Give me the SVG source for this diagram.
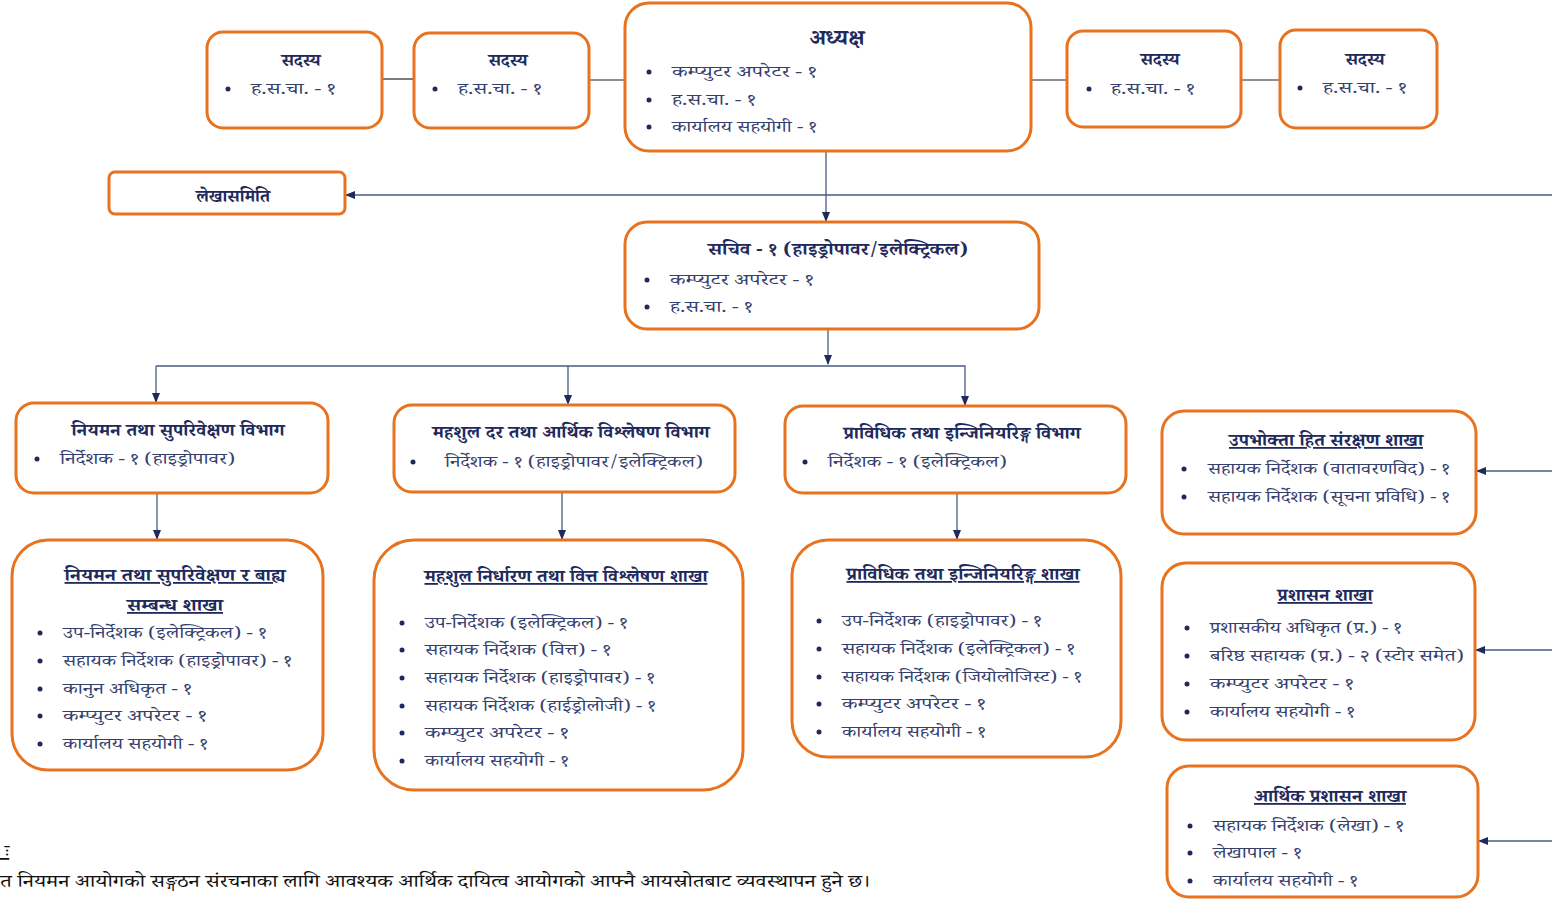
<svg xmlns="http://www.w3.org/2000/svg" width="1552" height="899" viewBox="0 0 1552 899">
<style>
.box{fill:#fff;stroke:#E8731F;stroke-width:3}
.t{font-family:"Noto Serif Devanagari","Noto Sans Devanagari","Lohit Devanagari","Noto Sans",serif;fill:#1F2A5C}
.h{font-size:18px;font-weight:bold;text-anchor:middle}
.hu{font-size:18px;font-weight:bold;text-anchor:middle;text-decoration:underline}
.i{font-size:16px;fill:#34406E}
.b{fill:#1F2A5C}
.c{fill:none;stroke:#4A5A85;stroke-width:1.3}
.k{fill:none;stroke:#222;stroke-width:1.2}
.n{font-family:"Noto Serif Devanagari","Noto Sans Devanagari","Lohit Devanagari","Noto Sans",serif;font-size:18px;fill:#111}
</style>
<defs>
<marker id="ar" markerWidth="10" markerHeight="10" refX="9" refY="5" orient="auto" markerUnits="userSpaceOnUse">
<path d="M0,1 L10,5 L0,9 Z" fill="#1F2A5C"/>
</marker>
</defs>
<g id="connectors">
<line class="k" x1="382" y1="79" x2="414" y2="79"/>
<line class="k" x1="589" y1="80" x2="625" y2="80"/>
<line class="k" x1="1031" y1="80" x2="1067" y2="80"/>
<line class="k" x1="1241" y1="80" x2="1280" y2="80"/>
<line class="c" x1="826" y1="151" x2="826" y2="221" marker-end="url(#ar)"/>
<line class="c" x1="1552" y1="195" x2="346" y2="195" marker-end="url(#ar)"/>
<line class="c" x1="828" y1="329" x2="828" y2="364" marker-end="url(#ar)"/>
<polyline class="c" points="156,366 965,366 965,405" marker-end="url(#ar)"/>
<line class="c" x1="156" y1="366" x2="156" y2="402" marker-end="url(#ar)"/>
<line class="c" x1="568" y1="366" x2="568" y2="404" marker-end="url(#ar)"/>
<line class="c" x1="157" y1="493" x2="157" y2="539" marker-end="url(#ar)"/>
<line class="c" x1="562" y1="492" x2="562" y2="539" marker-end="url(#ar)"/>
<line class="c" x1="957" y1="493" x2="957" y2="539" marker-end="url(#ar)"/>
<line class="c" x1="1552" y1="471" x2="1477" y2="471" marker-end="url(#ar)"/>
<line class="c" x1="1552" y1="650" x2="1476" y2="650" marker-end="url(#ar)"/>
<line class="c" x1="1552" y1="841" x2="1479" y2="841" marker-end="url(#ar)"/>
</g>
<g id="sadasya1">
<rect class="box" x="207" y="32" width="175" height="96" rx="16"/>
<text class="t h" x="301" y="66">सदस्य</text>
<circle class="b" cx="228" cy="89" r="2.5"/>
<text class="t i" x="251" y="94" textLength="85" lengthAdjust="spacingAndGlyphs">ह.स.चा. - १</text>
</g>
<g id="sadasya2">
<rect class="box" x="414" y="33" width="175" height="95" rx="16"/>
<text class="t h" x="508" y="66">सदस्य</text>
<circle class="b" cx="435" cy="89" r="2.5"/>
<text class="t i" x="458" y="94" textLength="84" lengthAdjust="spacingAndGlyphs">ह.स.चा. - १</text>
</g>
<g id="adhyaksha">
<rect class="box" x="625" y="3" width="406" height="148" rx="24"/>
<text class="t h" x="837" y="45" style="font-size:22px">अध्यक्ष</text>
<circle class="b" cx="649" cy="72" r="2.5"/>
<text class="t i" x="672" y="77" textLength="145" lengthAdjust="spacingAndGlyphs">कम्प्युटर अपरेटर - १</text>
<circle class="b" cx="649" cy="100" r="2.5"/>
<text class="t i" x="672" y="105" textLength="84" lengthAdjust="spacingAndGlyphs">ह.स.चा. - १</text>
<circle class="b" cx="649" cy="127" r="2.5"/>
<text class="t i" x="672" y="132" textLength="145" lengthAdjust="spacingAndGlyphs">कार्यालय सहयोगी - १</text>
</g>
<g id="sadasya3">
<rect class="box" x="1067" y="31" width="174" height="96" rx="16"/>
<text class="t h" x="1160" y="65">सदस्य</text>
<circle class="b" cx="1089" cy="89" r="2.5"/>
<text class="t i" x="1111" y="94" textLength="84" lengthAdjust="spacingAndGlyphs">ह.स.चा. - १</text>
</g>
<g id="sadasya4">
<rect class="box" x="1280" y="30" width="157" height="98" rx="16"/>
<text class="t h" x="1365" y="65">सदस्य</text>
<circle class="b" cx="1300" cy="88" r="2.5"/>
<text class="t i" x="1323" y="93" textLength="84" lengthAdjust="spacingAndGlyphs">ह.स.चा. - १</text>
</g>
<g id="lekhasamiti">
<rect class="box" x="109" y="172" width="236" height="42" rx="6"/>
<text class="t h" x="233" y="202">लेखासमिति</text>
</g>
<g id="sachiv">
<rect class="box" x="625" y="222" width="414" height="107" rx="22"/>
<text class="t h" x="838" y="255" textLength="260" lengthAdjust="spacingAndGlyphs">सचिव - १ (हाइड्रोपावर/इलेक्ट्रिकल)</text>
<circle class="b" cx="647" cy="280" r="2.5"/>
<text class="t i" x="670" y="285" textLength="144" lengthAdjust="spacingAndGlyphs">कम्प्युटर अपरेटर - १</text>
<circle class="b" cx="647" cy="307" r="2.5"/>
<text class="t i" x="670" y="312" textLength="83" lengthAdjust="spacingAndGlyphs">ह.स.चा. - १</text>
</g>
<g id="niyaman-vibhag">
<rect class="box" x="16" y="403" width="312" height="90" rx="18"/>
<text class="t h" x="178" y="436" textLength="213" lengthAdjust="spacingAndGlyphs">नियमन तथा सुपरिवेक्षण विभाग</text>
<circle class="b" cx="37" cy="459" r="2.5"/>
<text class="t i" x="60" y="464" textLength="175" lengthAdjust="spacingAndGlyphs">निर्देशक - १ (हाइड्रोपावर)</text>
</g>
<g id="mahashul-vibhag">
<rect class="box" x="394" y="405" width="341" height="87" rx="18"/>
<text class="t h" x="571" y="438" textLength="277" lengthAdjust="spacingAndGlyphs">महशुल दर तथा आर्थिक विश्लेषण विभाग</text>
<circle class="b" cx="413" cy="462" r="2.5"/>
<text class="t i" x="445" y="467" textLength="258" lengthAdjust="spacingAndGlyphs">निर्देशक - १ (हाइड्रोपावर/इलेक्ट्रिकल)</text>
</g>
<g id="prabidhik-vibhag">
<rect class="box" x="785" y="406" width="341" height="87" rx="18"/>
<text class="t h" x="962" y="439" textLength="237" lengthAdjust="spacingAndGlyphs">प्राविधिक तथा इन्जिनियरिङ्ग विभाग</text>
<circle class="b" cx="805" cy="462" r="2.5"/>
<text class="t i" x="828" y="467" textLength="179" lengthAdjust="spacingAndGlyphs">निर्देशक - १ (इलेक्ट्रिकल)</text>
</g>
<g id="upabhokta-shakha">
<rect class="box" x="1162" y="411" width="314" height="123" rx="22"/>
<text class="t hu" x="1326" y="446" textLength="194" lengthAdjust="spacingAndGlyphs">उपभोक्ता हित संरक्षण शाखा</text>
<circle class="b" cx="1184" cy="469" r="2.5"/>
<text class="t i" x="1208" y="474" textLength="242" lengthAdjust="spacingAndGlyphs">सहायक निर्देशक (वातावरणविद) - १</text>
<circle class="b" cx="1184" cy="497" r="2.5"/>
<text class="t i" x="1208" y="502" textLength="242" lengthAdjust="spacingAndGlyphs">सहायक निर्देशक (सूचना प्रविधि) - १</text>
</g>
<g id="niyaman-shakha">
<rect class="box" x="12" y="540" width="311" height="230" rx="36"/>
<text class="t hu" x="175" y="581" textLength="221" lengthAdjust="spacingAndGlyphs">नियमन तथा सुपरिवेक्षण र बाह्य</text>
<text class="t hu" x="175" y="611" textLength="96" lengthAdjust="spacingAndGlyphs">सम्बन्ध शाखा</text>
<circle class="b" cx="40" cy="633" r="2.5"/>
<text class="t i" x="63" y="638" textLength="204" lengthAdjust="spacingAndGlyphs">उप-निर्देशक (इलेक्ट्रिकल) - १</text>
<circle class="b" cx="40" cy="661" r="2.5"/>
<text class="t i" x="63" y="666" textLength="229" lengthAdjust="spacingAndGlyphs">सहायक निर्देशक (हाइड्रोपावर) - १</text>
<circle class="b" cx="40" cy="689" r="2.5"/>
<text class="t i" x="63" y="694" textLength="129" lengthAdjust="spacingAndGlyphs">कानुन अधिकृत - १</text>
<circle class="b" cx="40" cy="716" r="2.5"/>
<text class="t i" x="63" y="721" textLength="144" lengthAdjust="spacingAndGlyphs">कम्प्युटर अपरेटर - १</text>
<circle class="b" cx="40" cy="744" r="2.5"/>
<text class="t i" x="63" y="749" textLength="145" lengthAdjust="spacingAndGlyphs">कार्यालय सहयोगी - १</text>
</g>
<g id="mahashul-shakha">
<rect class="box" x="374" y="540" width="369" height="250" rx="40"/>
<text class="t hu" x="566" y="582" textLength="283" lengthAdjust="spacingAndGlyphs">महशुल निर्धारण तथा वित्त विश्लेषण शाखा</text>
<circle class="b" cx="402" cy="623" r="2.5"/>
<text class="t i" x="425" y="628" textLength="203" lengthAdjust="spacingAndGlyphs">उप-निर्देशक (इलेक्ट्रिकल) - १</text>
<circle class="b" cx="402" cy="650" r="2.5"/>
<text class="t i" x="425" y="655" textLength="186" lengthAdjust="spacingAndGlyphs">सहायक निर्देशक (वित्त) - १</text>
<circle class="b" cx="402" cy="678" r="2.5"/>
<text class="t i" x="425" y="683" textLength="230" lengthAdjust="spacingAndGlyphs">सहायक निर्देशक (हाइड्रोपावर) - १</text>
<circle class="b" cx="402" cy="706" r="2.5"/>
<text class="t i" x="425" y="711" textLength="231" lengthAdjust="spacingAndGlyphs">सहायक निर्देशक (हाईड्रोलोजी) - १</text>
<circle class="b" cx="402" cy="733" r="2.5"/>
<text class="t i" x="425" y="738" textLength="144" lengthAdjust="spacingAndGlyphs">कम्प्युटर अपरेटर - १</text>
<circle class="b" cx="402" cy="761" r="2.5"/>
<text class="t i" x="425" y="766" textLength="144" lengthAdjust="spacingAndGlyphs">कार्यालय सहयोगी - १</text>
</g>
<g id="prabidhik-shakha">
<rect class="box" x="792" y="540" width="329" height="217" rx="36"/>
<text class="t hu" x="963" y="580" textLength="233" lengthAdjust="spacingAndGlyphs">प्राविधिक तथा इन्जिनियरिङ्ग शाखा</text>
<circle class="b" cx="819" cy="621" r="2.5"/>
<text class="t i" x="842" y="626" textLength="200" lengthAdjust="spacingAndGlyphs">उप-निर्देशक (हाइड्रोपावर) - १</text>
<circle class="b" cx="819" cy="649" r="2.5"/>
<text class="t i" x="842" y="654" textLength="233" lengthAdjust="spacingAndGlyphs">सहायक निर्देशक (इलेक्ट्रिकल) - १</text>
<circle class="b" cx="819" cy="677" r="2.5"/>
<text class="t i" x="842" y="682" textLength="240" lengthAdjust="spacingAndGlyphs">सहायक निर्देशक (जियोलोजिस्ट) - १</text>
<circle class="b" cx="819" cy="704" r="2.5"/>
<text class="t i" x="842" y="709" textLength="144" lengthAdjust="spacingAndGlyphs">कम्प्युटर अपरेटर - १</text>
<circle class="b" cx="819" cy="732" r="2.5"/>
<text class="t i" x="842" y="737" textLength="144" lengthAdjust="spacingAndGlyphs">कार्यालय सहयोगी - १</text>
</g>
<g id="prashasan-shakha">
<rect class="box" x="1162" y="563" width="313" height="177" rx="24"/>
<text class="t hu" x="1325" y="601" textLength="95" lengthAdjust="spacingAndGlyphs">प्रशासन शाखा</text>
<circle class="b" cx="1187" cy="628" r="2.5"/>
<text class="t i" x="1210" y="633" textLength="192" lengthAdjust="spacingAndGlyphs">प्रशासकीय अधिकृत (प्र.) - १</text>
<circle class="b" cx="1187" cy="656" r="2.5"/>
<text class="t i" x="1210" y="661" textLength="254" lengthAdjust="spacingAndGlyphs">बरिष्ठ सहायक (प्र.) - २ (स्टोर समेत)</text>
<circle class="b" cx="1187" cy="684" r="2.5"/>
<text class="t i" x="1210" y="689" textLength="144" lengthAdjust="spacingAndGlyphs">कम्प्युटर अपरेटर - १</text>
<circle class="b" cx="1187" cy="712" r="2.5"/>
<text class="t i" x="1210" y="717" textLength="145" lengthAdjust="spacingAndGlyphs">कार्यालय सहयोगी - १</text>
</g>
<g id="arthik-prashasan-shakha">
<rect class="box" x="1167" y="766" width="311" height="131" rx="22"/>
<text class="t hu" x="1330" y="802" textLength="152" lengthAdjust="spacingAndGlyphs">आर्थिक प्रशासन शाखा</text>
<circle class="b" cx="1190" cy="826" r="2.5"/>
<text class="t i" x="1213" y="831" textLength="191" lengthAdjust="spacingAndGlyphs">सहायक निर्देशक (लेखा) - १</text>
<circle class="b" cx="1190" cy="853" r="2.5"/>
<text class="t i" x="1213" y="858" textLength="89" lengthAdjust="spacingAndGlyphs">लेखापाल - १</text>
<circle class="b" cx="1190" cy="881" r="2.5"/>
<text class="t i" x="1213" y="886" textLength="145" lengthAdjust="spacingAndGlyphs">कार्यालय सहयोगी - १</text>
</g>
<g id="note">
<text class="n" x="0" y="857" style="text-decoration:underline">&#160;ः</text>
<text class="n" x="0" y="887" textLength="870" lengthAdjust="spacingAndGlyphs">त नियमन आयोगको सङ्गठन संरचनाका लागि आवश्यक आर्थिक दायित्व आयोगको आफ्नै आयस्रोतबाट व्यवस्थापन हुने छ।</text>
</g>
</svg>
